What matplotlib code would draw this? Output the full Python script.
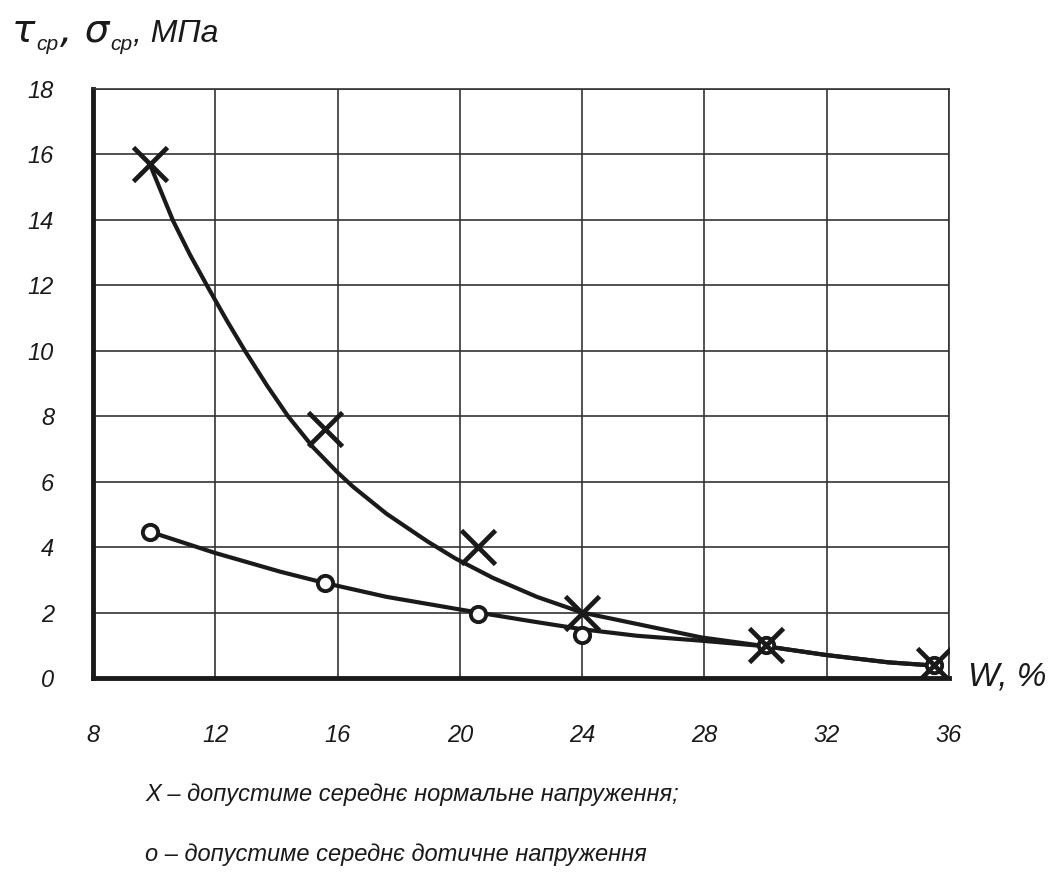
import matplotlib
matplotlib.use("Agg")
import matplotlib.pyplot as plt
from matplotlib import font_manager as fm

# ---------------- data ----------------
x_ticks = [8, 12, 16, 20, 24, 28, 32, 36]
y_ticks = [0, 2, 4, 6, 8, 10, 12, 14, 16, 18]

# "X" points: allowable mean normal stress
w_normal = [9.86, 15.6, 20.6, 24.0, 30.0, 35.5]
sigma_normal = [15.7, 7.6, 4.0, 2.0, 1.0, 0.4]

# "o" points: allowable mean tangential stress
w_shear = [9.86, 15.6, 20.6, 24.0, 30.0, 35.5]
tau_shear = [4.47, 2.9, 1.95, 1.3, 1.0, 0.4]

# hand-drawn trend curves
curve_normal_w = [9.86, 10.62, 11.17, 11.76, 12.38, 12.97, 13.69, 14.38, 15.2,
                  15.98, 16.5, 17.6, 18.93, 19.84, 21.08, 22.52, 24.0, 25.8,
                  27.9, 30.0, 32.0, 34.0, 35.5]
curve_normal_s = [15.7, 13.97, 12.94, 11.94, 10.92, 10.0, 8.94, 8.0, 7.05,
                  6.3, 5.85, 5.02, 4.18, 3.66, 3.06, 2.48, 2.0, 1.65,
                  1.24, 0.97, 0.7, 0.48, 0.38]
curve_shear_w = [9.86, 12.0, 14.12, 15.6, 17.6, 19.84, 20.6, 22.3, 24.0,
                 25.8, 27.9, 30.0, 32.0, 34.0, 35.5]
curve_shear_t = [4.47, 3.82, 3.25, 2.9, 2.48, 2.12, 2.0, 1.74, 1.49,
                 1.29, 1.14, 0.97, 0.7, 0.48, 0.38]

y_title = ["τ", "ср", ", σ", "ср", ", МПа"]
x_label = "W, %"
legend_lines = ["Х – допустиме середнє нормальне напруження;",
                "о – допустиме середнє дотичне напруження"]

# ---------------- font ----------------
def pick(cands):
    for c in cands:
        try:
            fm.findfont(fm.FontProperties(family=c), fallback_to_default=False)
            return c
        except Exception:
            pass
    return "DejaVu Sans"

FONT = pick(["Liberation Sans Narrow", "DejaVu Sans Condensed", "Liberation Sans", "DejaVu Sans"])
plt.rcParams["font.family"] = [FONT, "DejaVu Sans"]
plt.rcParams["font.style"] = "italic"

INK = "#1a1a1a"
W, H = 1059, 881

fig = plt.figure(figsize=(W / 100, H / 100), dpi=100)
ax = fig.add_axes([93 / W, 1 - 678 / H, (949 - 93) / W, (678 - 89) / H])

ax.set_xlim(8, 36)
ax.set_ylim(0, 18)
ax.set_xticks(x_ticks)
ax.set_yticks(y_ticks)
ax.set_xticklabels([str(v) for v in x_ticks])
ax.set_yticklabels([str(v) for v in y_ticks])
ax.tick_params(length=0, labelsize=17, colors=INK)
ax.tick_params(axis="x", pad=33)
ax.tick_params(axis="y", pad=28)
for lab in ax.get_xticklabels() + ax.get_yticklabels():
    lab.set_fontstyle("italic")

ax.grid(True, color="#333333", linewidth=1.2)
ax.set_axisbelow(True)
for s in ("top", "right"):
    ax.spines[s].set_linewidth(1.2)
    ax.spines[s].set_color("#333333")
for s in ("left", "bottom"):
    ax.spines[s].set_linewidth(3.5)
    ax.spines[s].set_color(INK)

ax.plot(curve_normal_w, curve_normal_s, color=INK, lw=3, solid_joinstyle="round",
        solid_capstyle="round", zorder=3)
ax.plot(curve_shear_w, curve_shear_t, color=INK, lw=3, solid_joinstyle="round",
        solid_capstyle="round", zorder=3)
ax.plot(w_shear, tau_shear, linestyle="none", marker="o", ms=11, mew=2.8,
        mec=INK, mfc="white", zorder=4)
ax.plot(w_normal, sigma_normal, linestyle="none", marker="x", ms=25, mew=3.4,
        mec=INK, zorder=5)

# x-axis label at right end
fig.text(968 / W, 1 - 677 / H, x_label, fontsize=24, style="italic",
         color=INK, ha="left", va="center")

# y-axis title with subscripts, placed piece by piece on a common baseline
renderer = fig.canvas.get_renderer()
base_px = 42
x_px = 12
specs = [(28, 0, "DejaVu Sans"), (15, -8, None), (28, 0, "DejaVu Sans"),
         (15, -8, None), (23, 0, None)]
for txt, (sz, dy, fam) in zip(y_title, specs):
    family = fam if fam else [FONT, "DejaVu Sans"]
    t = fig.text(x_px / W, 1 - (base_px - dy) / H, txt, fontsize=sz, style="italic",
                 color=INK, ha="left", va="baseline", family=family)
    bb = t.get_window_extent(renderer)
    x_px = bb.x1 + 1

# legend text below
fig.text(145 / W, 1 - 795 / H, legend_lines[0], fontsize=17, style="italic",
         color=INK, ha="left", va="center")
fig.text(145 / W, 1 - 855 / H, legend_lines[1], fontsize=17, style="italic",
         color=INK, ha="left", va="center")

fig.savefig("out.png", dpi=100, facecolor="white")
